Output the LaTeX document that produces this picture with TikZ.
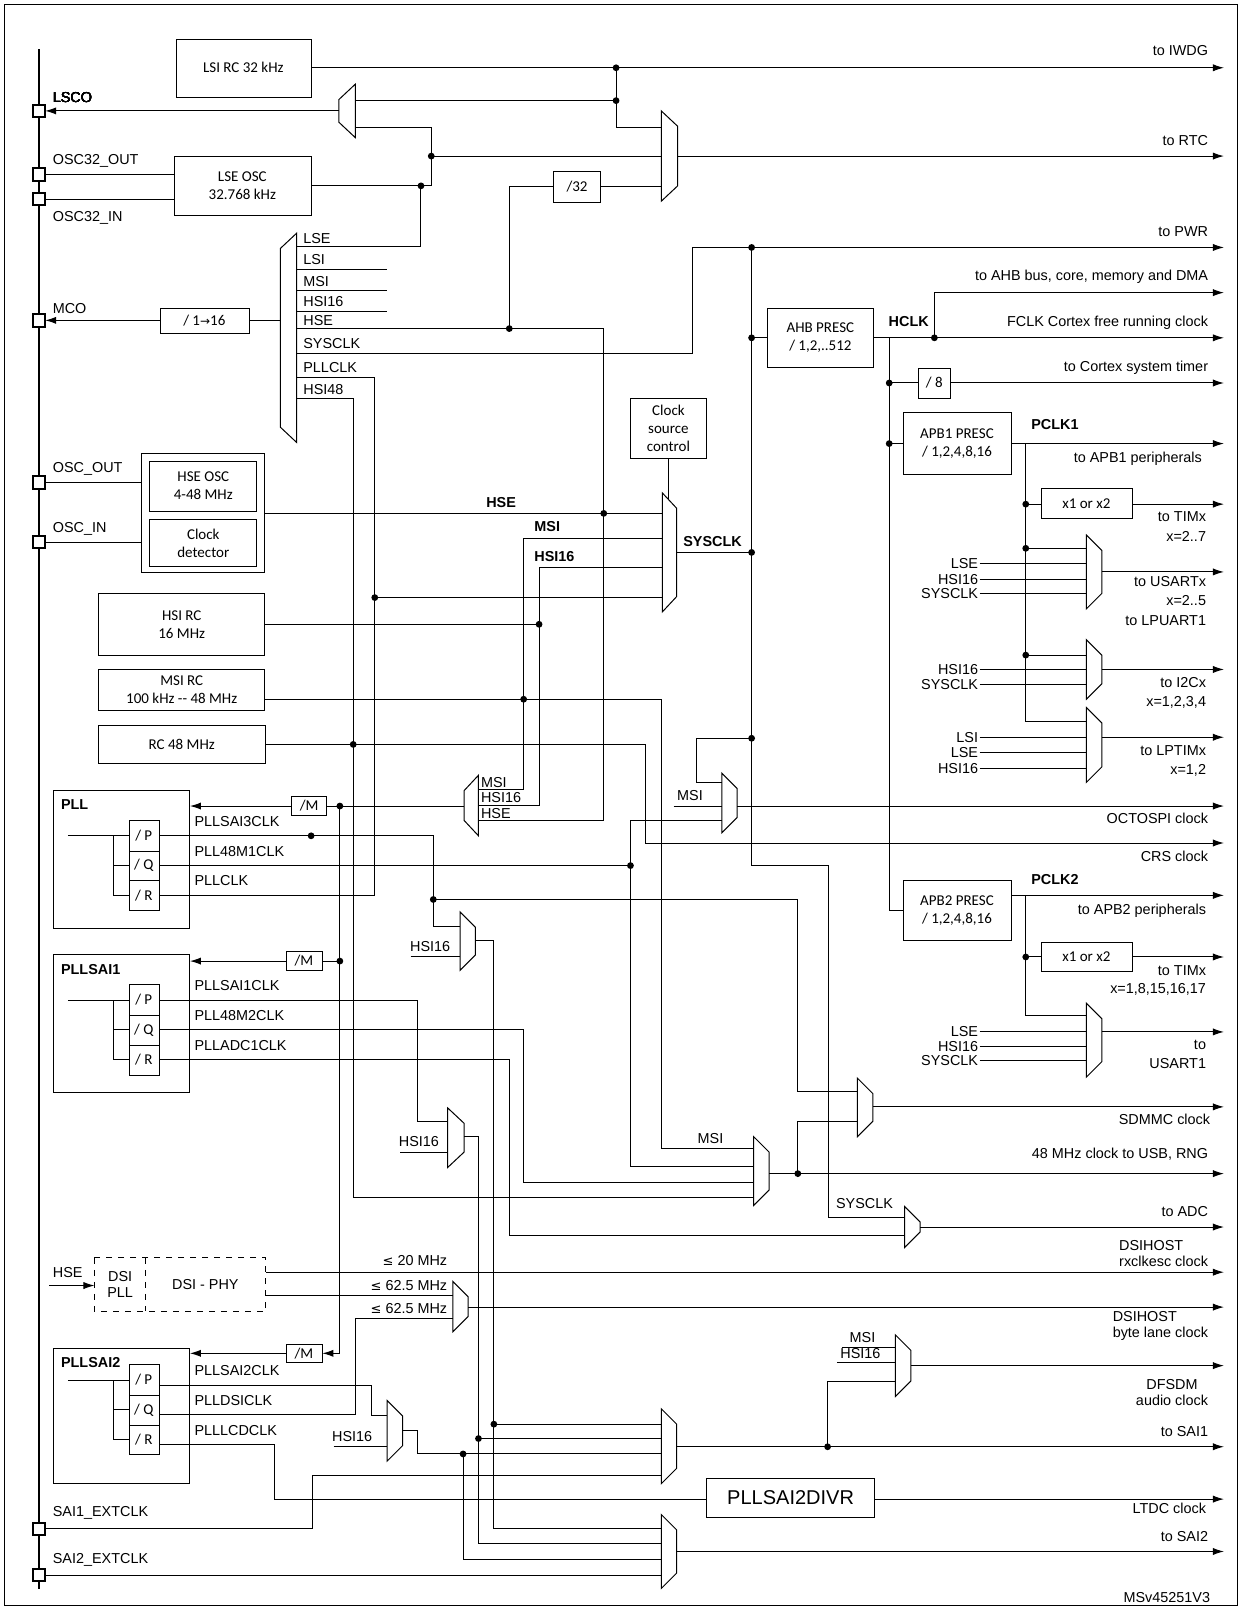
\documentclass[tikz,border=0pt]{standalone}
\usepackage{fontspec}
\setmainfont{Liberation Sans}
\newfontfamily\calfont{Carlito}
\newfontfamily\dvfont{DejaVu Sans}
\usetikzlibrary{arrows.meta}
\tikzset{
 every path/.style={line width=0.5pt},
 lbl/.style={font=\fontsize{7.2}{8}\selectfont, inner sep=0.5pt},
 blbl/.style={font=\fontsize{7.2}{8}\selectfont\bfseries, inner sep=0.5pt},
 btxt/.style={font=\calfont\fontsize{7.5}{9}\selectfont, align=center, inner sep=0},
 arr/.style={-{Latex[length=5.5pt,width=3.6pt]}},
}
\newcommand\mR[4]{\draw (#1,#2) -- (#3,{#2+15}) -- (#3,{#4-15}) -- (#1,#4) -- cycle;}
\newcommand\mL[4]{\draw (#3,#2) -- (#1,{#2+15}) -- (#1,{#4-15}) -- (#3,#4) -- cycle;}
\newcommand\dt[2]{\fill (#1,#2) circle[radius=1.7pt];}
\newcommand\pin[1]{\draw[line width=1pt,fill=white] (32,{#1-6}) rectangle (44,{#1+6});}
\newcommand\lesym{{\dvfont\fontsize{6.5}{7}\selectfont ≤}}
\begin{document}
\begin{tikzpicture}[x=0.5132pt,y=-0.5132pt]
\useasboundingbox (0,0) rectangle (1209,1568);
\draw (4,4) rectangle (1205,1564);
\draw[line width=1.4pt] (38,48) -- (38,1548);
% ---- top
\draw (172,38) rectangle (303,95); \node[btxt] (lsi) at (237,66) {LSI RC 32 kHz};
\draw[arr] (303,66) -- (1192,66); \node[lbl,anchor=east] (tiwdg) at (1178,49) {to IWDG};
\dt{600}{66}\dt{600}{98}
\draw (600,66) -- (600,124) -- (644,124);
\draw (600,98) -- (346,98);
\mL{330}{82}{346}{134}
\draw[arr] (330,108) -- (44,108);
\draw (346,124) -- (420,124) -- (420,181);
\dt{420}{152}\draw (420,152) -- (644,152);
\draw (170,152) rectangle (303,210); \node[btxt] (lse) at (236,181) {LSE OSC\\32.768 kHz};
\draw (303,181) -- (420,181); \dt{410}{181}
\draw (410,181) -- (410,240) -- (289,240);
\draw (44,170) -- (170,170); \draw (44,194) -- (170,194);
\mR{644}{108}{660}{196}
\draw[arr] (660,152) -- (1192,152); \node[lbl,anchor=east] (trtc) at (1178,137) {to RTC};
\draw (539,167) rectangle (585,197); \node[btxt] (d32) at (562,182) {/32};
\draw (585,182) -- (644,182);
\draw (539,182) -- (496,182) -- (496,320); \dt{496}{320}
% ---- MCO mux
\mL{273}{227}{289}{431}
\draw (273,312) -- (243,312);
\draw (156,300) rectangle (243,325); \node[btxt] (mdiv) at (199,312) {/ 1{\dvfont\fontsize{6}{7}\selectfont →}16};
\draw[arr] (156,312) -- (44,312);
\draw (289,262) -- (377,262); \draw (289,283) -- (377,283); \draw (289,303) -- (377,303);
\draw (289,320) -- (588,320) -- (588,799) -- (466,799);
\dt{588}{500}
\draw[arr] (289,344) -- (674,344) -- (674,241) -- (1192,241); \dt{732}{241}
\node[lbl,anchor=east] (tpwr) at (1178,226) {to PWR};
\draw (289,368) -- (365,368) -- (365,872) -- (155,872);
\dt{365}{582}\draw (365,582) -- (645,582);
\draw (289,388) -- (344,388) -- (344,1166) -- (734,1166);
\dt{344}{725}
\foreach \t/\y [count=\i] in {LSE/232,LSI/253,MSI/274,HSI16/294,HSE/312,SYSCLK/335,PLLCLK/358,HSI48/379}
  \node[lbl,anchor=west] (mco\i) at (294,\y) {\t};
% ---- pins
\foreach \y in {108,170,194,312,470,528,1489,1534} \pin{\y}
\node[lbl,anchor=west] (plsco) at (50,95) {LSCO};
\node[lbl,anchor=west] (po32o) at (50,157) {OSC32\_OUT};
\node[lbl,anchor=west] (po32i) at (50,212) {OSC32\_IN};
\node[lbl,anchor=west] (pmco) at (50,300) {MCO};
\node[lbl,anchor=west] (posco) at (50,457) {OSC\_OUT};
\node[lbl,anchor=west] (posci) at (50,515) {OSC\_IN};
\node[lbl,anchor=west] (psai1) at (50,1473) {SAI1\_EXTCLK};
\node[lbl,anchor=west] (psai2) at (50,1519) {SAI2\_EXTCLK};
% ---- HSE osc
\draw (138,442) rectangle (258,558);
\draw (146,449) rectangle (250,498); \node[btxt] (hseo) at (198,473) {HSE OSC\\4-48 MHz};
\draw (146,506) rectangle (250,552); \node[btxt] (cdet) at (198,529) {Clock\\detector};
\draw (44,470) -- (138,470); \draw (44,528) -- (138,528);
\draw (258,500) -- (645,500); \node[blbl] (lhse) at (488,489) {HSE};
\draw (510,524) -- (645,524); \node[blbl] (lmsi) at (533,513) {MSI};
\draw (525,553) -- (645,553); \node[blbl] (lhsi) at (540,542) {HSI16};
\draw (510,524) -- (510,769) -- (466,769);
\draw (525,553) -- (525,784) -- (466,784);
\mR{645}{480}{659}{596}
\draw (659,538) -- (732,538); \dt{732}{538}
\node[blbl] (lsys) at (694,527) {SYSCLK};
\draw (614,388) rectangle (688,447); \node[btxt] (csc) at (651,417) {Clock\\source\\control};
\draw (651,447) -- (651,486);
% ---- oscillators
\draw (96,578) rectangle (258,638); \node[btxt] (hsirc) at (177,608) {HSI RC\\16 MHz};
\draw (258,608) -- (525,608); \dt{525}{608}
\draw (96,652) rectangle (258,692); \node[btxt] (msirc) at (177,672) {MSI RC\\100 kHz -- 48 MHz};
\draw (258,681) -- (644,681) -- (644,1119) -- (734,1119); \dt{510}{681}
\node[lbl] (lmsi48) at (692,1109) {MSI};
\draw (96,707) rectangle (259,744); \node[btxt] (rc48) at (177,725) {RC 48 MHz};
\draw[arr] (259,725) -- (629,725) -- (629,821) -- (1192,821);
\node[lbl,anchor=east] (tcrs) at (1178,834) {CRS clock};
% ---- AHB
\draw (732,241) -- (732,843) -- (807,843) -- (807,1186) -- (881,1186);
\node[lbl] (lsysadc) at (842,1172) {SYSCLK};
\dt{732}{329}\draw (732,329) -- (747,329);
\draw (747,300) rectangle (851,358); \node[btxt] (ahb) at (799,329) {AHB PRESC\\/ 1,2,..512};
\draw[arr] (851,329) -- (1192,329); \node[blbl] (hclk) at (885,313) {HCLK};
\node[lbl,anchor=east] (tfclk) at (1178,314) {FCLK Cortex free running clock};
\dt{910}{329}\draw[arr] (910,329) -- (910,285) -- (1192,285);
\node[lbl,anchor=east] (tahb) at (1178,270) {to AHB bus, core, memory and DMA};
\draw (866,329) -- (866,887) -- (880,887);
\dt{866}{373}\draw (866,373) -- (895,373);
\draw (895,359) rectangle (926,388); \node[btxt] (d8) at (910,373) {/ 8};
\draw[arr] (926,373) -- (1192,373); \node[lbl,anchor=east] (tcst) at (1178,358) {to Cortex system timer};
\dt{866}{432}\draw (866,432) -- (880,432);
\draw (880,402) rectangle (985,462); \node[btxt] (apb1) at (932,432) {APB1 PRESC\\/ 1,2,4,8,16};
\draw[arr] (985,432) -- (1192,432); \node[blbl,anchor=west] (pclk1) at (1003,413) {PCLK1};
\node[lbl,anchor=east] (tapb1) at (1172,447) {to APB1 peripherals};
\draw (999,432) -- (999,703) -- (1058,703);
\dt{999}{491}\draw (999,491) -- (1014,491);
\draw (1014,476) rectangle (1103,505); \node[btxt] (x12a) at (1058,491) {x1 or x2};
\draw[arr] (1103,491) -- (1192,491);
\node[lbl,anchor=east] (ttim1) at (1176,503) {to TIMx}; \node[lbl,anchor=east] (ttim1b) at (1176,522) {x=2..7};
\mR{1058}{521}{1073}{593}
\dt{999}{534}\draw (999,534) -- (1058,534);
\foreach \t/\y [count=\i] in {LSE/549,HSI16/564,SYSCLK/578} {\draw (954,\y) -- (1058,\y); \node[lbl,anchor=east] (u\i) at (954,\y) {\t};}
\draw[arr] (1073,557) -- (1192,557);
\node[lbl,anchor=east] (tus1) at (1176,566) {to USARTx}; \node[lbl,anchor=east] (tus2) at (1176,585) {x=2..5}; \node[lbl,anchor=east] (tus3) at (1176,604) {to LPUART1};
\mR{1058}{623}{1073}{681}
\dt{999}{638}\draw (999,638) -- (1058,638);
\foreach \t/\y [count=\i] in {HSI16/652,SYSCLK/667} {\draw (954,\y) -- (1058,\y); \node[lbl,anchor=east] (i\i) at (954,\y) {\t};}
\draw[arr] (1073,652) -- (1192,652);
\node[lbl,anchor=east] (ti2c) at (1176,665) {to I2Cx}; \node[lbl,anchor=east] (ti2cb) at (1176,684) {x=1,2,3,4};
\mR{1058}{689}{1073}{762}
\foreach \t/\y [count=\i] in {LSI/718,LSE/733,HSI16/748} {\draw (954,\y) -- (1058,\y); \node[lbl,anchor=east] (lp\i) at (954,\y) {\t};}
\draw[arr] (1073,718) -- (1192,718);
\node[lbl,anchor=east] (tlp) at (1176,731) {to LPTIMx}; \node[lbl,anchor=east] (tlpb) at (1176,750) {x=1,2};
% ---- APB2
\draw (880,858) rectangle (985,916); \node[btxt] (apb2) at (932,887) {APB2 PRESC\\/ 1,2,4,8,16};
\draw[arr] (985,872) -- (1192,872); \node[blbl,anchor=west] (pclk2) at (1003,857) {PCLK2};
\node[lbl,anchor=east] (tapb2) at (1176,887) {to APB2 peripherals};
\draw (999,872) -- (999,989) -- (1058,989);
\dt{999}{932}\draw (999,932) -- (1014,932);
\draw (1014,918) rectangle (1103,946); \node[btxt] (x12b) at (1058,932) {x1 or x2};
\draw[arr] (1103,932) -- (1192,932);
\node[lbl,anchor=east] (ttim2) at (1176,945) {to TIMx}; \node[lbl,anchor=east] (ttim2b) at (1176,964) {x=1,8,15,16,17};
\mR{1058}{977}{1073}{1049}
\foreach \t/\y [count=\i] in {LSE/1005,HSI16/1019,SYSCLK/1033} {\draw (954,\y) -- (1058,\y); \node[lbl,anchor=east] (v\i) at (954,\y) {\t};}
\draw[arr] (1073,1005) -- (1192,1005);
\node[lbl,anchor=east] (tu1) at (1176,1018) {to}; \node[lbl,anchor=east] (tu1b) at (1176,1036) {USART1};
% ---- OCTOSPI
\dt{732}{719}\draw (732,719) -- (678,719) -- (678,762) -- (703,762);
\draw (656,785) -- (703,785); \node[lbl] (locto) at (672,775) {MSI};
\draw (614,799) -- (703,799);
\mR{703}{753}{718}{811}
\draw[arr] (718,785) -- (1192,785); \node[lbl,anchor=east] (toct) at (1178,797) {OCTOSPI clock};
% ---- PLL
\draw (52,770) rectangle (185,904); \node[blbl,anchor=west] (pll) at (58,784) {PLL};
\draw (52,930) rectangle (185,1064); \node[blbl,anchor=west] (pllsai1) at (58,944) {PLLSAI1};
\draw (52,1313) rectangle (185,1445); \node[blbl,anchor=west] (pllsai2) at (58,1327) {PLLSAI2};
\foreach \b/\o in {p/0,s/160,t/530} {
  \draw (126,{799+\o}) rectangle (155,{829+\o}); \node[btxt] (\b P) at (140,{814+\o}) {/ P};
  \draw (126,{829+\o}) rectangle (155,{858+\o}); \node[btxt] (\b Q) at (140,{843+\o}) {/ Q};
  \draw (126,{858+\o}) rectangle (155,{887+\o}); \node[btxt] (\b R) at (140,{872+\o}) {/ R};
  \draw (66,{814+\o}) -- (126,{814+\o}); \draw (111,{814+\o}) -- (111,{872+\o}) -- (126,{872+\o}); \draw (111,{843+\o}) -- (126,{843+\o});
}
\draw (284,776) rectangle (318,794); \node[btxt] (m1) at (301,785) {/M};
\draw (279,927) rectangle (314,945); \node[btxt] (m2) at (296,936) {/M};
\draw (279,1309) rectangle (314,1327); \node[btxt] (m3) at (296,1318) {/M};
\draw[arr] (284,785) -- (185,785);
\draw[arr] (279,936) -- (185,936);
\draw[arr] (279,1318) -- (185,1318);
\draw (318,785) -- (452,785); \dt{331}{785}
\draw[arr] (331,785) -- (331,1318) -- (314,1318);
\dt{331}{936}\draw (331,936) -- (314,936);
\mL{452}{755}{466}{814}
\node[lbl,anchor=west] (pm1) at (467,762) {MSI};
\node[lbl,anchor=west] (pm2) at (467,777) {HSI16};
\node[lbl,anchor=west] (pm3) at (467,792) {HSE};
\foreach \t/\y [count=\i] in {PLLSAI3CLK/800,PLL48M1CLK/829,PLLCLK/858,PLLSAI1CLK/960,PLL48M2CLK/989,PLLADC1CLK/1018,PLLSAI2CLK/1335,PLLDSICLK/1364,PLLLCDCLK/1393}
  \node[lbl,anchor=west] (po\i) at (188,\y) {\t};
% PLL outputs
\draw (155,814) -- (422,814) -- (422,902) -- (448,902); \dt{303}{814}
\dt{422}{876}\draw (422,876) -- (777,876) -- (777,1063) -- (835,1063);
\mR{448}{888}{463}{945}
\draw (400,932) -- (448,932); \node[lbl] (h1) at (419,922) {HSI16};
\draw (463,916) -- (481,916) -- (481,1489) -- (644,1489);
\dt{481}{1387}\draw (481,1387) -- (644,1387);
\draw (155,843) -- (614,843); \dt{614}{843}
\draw (614,799) -- (614,1136) -- (734,1136);
\draw (155,974) -- (407,974) -- (407,1092) -- (436,1092);
\mR{436}{1079}{452}{1137}
\draw (390,1122) -- (436,1122); \node[lbl] (h2) at (408,1112) {HSI16};
\draw (452,1107) -- (466,1107) -- (466,1503) -- (644,1503);
\dt{466}{1401}\draw (466,1401) -- (644,1401);
\draw (155,1003) -- (510,1003) -- (510,1152) -- (734,1152);
\draw (155,1032) -- (496,1032) -- (496,1203) -- (881,1203);
\mR{734}{1107}{749}{1174}
\draw[arr] (749,1143) -- (1192,1143); \dt{777}{1143}
\draw (777,1143) -- (777,1092) -- (835,1092);
\node[lbl,anchor=east] (t48) at (1178,1124) {48 MHz clock to USB, RNG};
\mR{835}{1050}{850}{1107}
\draw[arr] (850,1078) -- (1192,1078); \node[lbl,anchor=east] (tsdm) at (1180,1090) {SDMMC clock};
\mR{881}{1175}{896}{1215}
\draw[arr] (896,1195) -- (1192,1195); \node[lbl,anchor=east] (tadc) at (1178,1180) {to ADC};
% ---- DSI
\draw[dashed] (92,1225) rectangle (259,1277); \draw[dashed] (142,1225) -- (142,1277);
\node[lbl,align=center] (dsipll) at (117,1251) {DSI\\PLL};
\node[lbl] (dsiphy) at (200,1251) {DSI - PHY};
\draw[arr] (48,1252) -- (92,1252); \node[lbl] (hsein) at (66,1239) {HSE};
\draw[arr] (259,1239) -- (1192,1239); \node[lbl,anchor=east] (l20) at (437,1228) {\lesym{} 20 MHz};
\node[lbl,anchor=east,align=left] (tdsi1) at (1178,1221) {DSIHOST\\rxclkesc clock};
\draw (259,1262) -- (441,1262); \node[lbl,anchor=east] (l62a) at (437,1252) {\lesym{} 62.5 MHz};
\draw (155,1378) -- (346,1378) -- (346,1284) -- (441,1284); \node[lbl,anchor=east] (l62b) at (437,1274) {\lesym{} 62.5 MHz};
\mR{441}{1248}{456}{1297}
\draw[arr] (456,1273) -- (1192,1273);
\node[lbl,anchor=east,align=left] (tdsi2) at (1178,1291) {DSIHOST\\byte lane clock};
% ---- SAI
\draw (155,1349) -- (362,1349) -- (362,1379) -- (377,1379);
\mR{377}{1364}{392}{1423}
\draw (325,1409) -- (377,1409); \node[lbl] (h3) at (343,1399) {HSI16};
\draw (392,1393) -- (407,1393) -- (407,1416) -- (644,1416);
\dt{451}{1416}\draw (451,1416) -- (451,1519) -- (644,1519);
\mR{644}{1372}{659}{1445}
\draw[arr] (659,1409) -- (1192,1409); \node[lbl,anchor=east] (tsai1) at (1178,1394) {to SAI1};
\dt{806}{1409}\draw (806,1409) -- (806,1345) -- (872,1345);
\draw (44,1489) -- (304,1489) -- (304,1437) -- (644,1437);
\draw (155,1407) -- (267,1407) -- (267,1460) -- (688,1460);
\draw (688,1440) rectangle (852,1478); \node[font=\fontsize{10}{12}\selectfont] (divr) at (770,1459) {PLLSAI2DIVR};
\draw[arr] (852,1460) -- (1192,1460); \node[lbl,anchor=east] (tltdc) at (1176,1469) {LTDC clock};
\mR{644}{1475}{659}{1547}
\draw (44,1534) -- (644,1534);
\draw[arr] (659,1511) -- (1192,1511); \node[lbl,anchor=east] (tsai2) at (1178,1496) {to SAI2};
\mR{872}{1300}{887}{1360}
\draw (820,1312) -- (872,1312); \node[lbl] (dm) at (840,1303) {MSI};
\draw (815,1327) -- (872,1327); \node[lbl] (dh) at (838,1318) {HSI16};
\draw[arr] (887,1330) -- (1192,1330);
\node[lbl,anchor=east,align=center] (tdfs) at (1178,1356) {DFSDM\\audio clock};
\node[lbl,anchor=east] (msv) at (1180,1556) {MSv45251V3};
\end{tikzpicture}
\end{document}
